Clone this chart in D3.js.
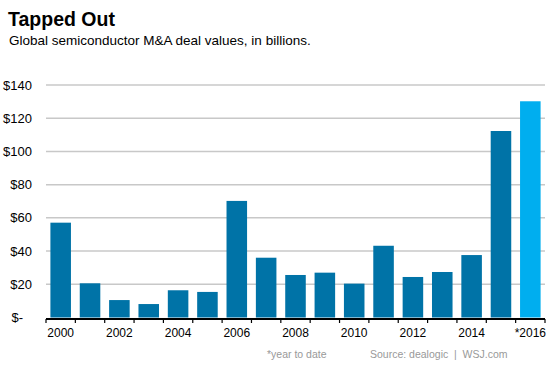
<!DOCTYPE html>
<html><head><meta charset="utf-8">
<script src="https://cdn.jsdelivr.net/npm/d3@7"></script>
<style>body{margin:0;background:#fff;font-family:"Liberation Sans",Arial,sans-serif;}</style>
</head><body><svg id="c" width="553" height="369"></svg>
<script>
const years = ["2000","2001","2002","2003","2004","2005","2006","2007","2008","2009","2010","2011","2012","2013","2014","2015","*2016"];
const values = [57.1,20.6,10.5,8.1,16.4,15.4,70.2,36,25.6,27,20.4,43.2,24.4,27.4,37.6,112.3,130.2];
const yTicks = [0,20,40,60,80,100,120,140];
const tickLabelYears = ["2000","2002","2004","2006","2008","2010","2012","2014","*2016"];

const svg = d3.select("#c");
const x = d3.scaleBand().domain(years).range([46,545]).paddingInner(0.3).paddingOuter(0.15);
const y = d3.scaleLinear().domain([0,140]).range([317.5,85]);

svg.append("text").attr("x",8).attr("y",26).attr("font-size",19.5).attr("font-weight","bold").attr("fill","#000").text("Tapped Out");
svg.append("text").attr("x",9).attr("y",45).attr("font-size",13.5).attr("fill","#000").text("Global semiconductor M&A deal values, in billions.");

// gridlines
svg.append("g").selectAll("line").data(yTicks.filter(d=>d>0)).join("line")
  .attr("x1",46).attr("x2",545).attr("y1",d=>y(d)).attr("y2",d=>y(d))
  .attr("stroke","#c8c8c8").attr("stroke-width",1.5);

// y labels
svg.append("g").selectAll("text").data(yTicks).join("text")
  .attr("x",d=>d===0?23:32).attr("y",d=>y(d)).attr("dy","0.35em")
  .attr("text-anchor","end").attr("font-size",13).attr("fill","#000")
  .text(d=>d===0?"$-":"$"+d);

// bars
svg.append("g").selectAll("rect").data(years).join("rect")
  .attr("x",d=>x(d)).attr("width",x.bandwidth())
  .attr("y",(d,i)=>y(values[i])).attr("height",(d,i)=>y(0)-y(values[i]))
  .attr("fill",(d,i)=>i===years.length-1?"#00aeef":"#0073a7");

// x axis
const step = x.step();
const ax = svg.append("g");
ax.append("line").attr("x1",46).attr("x2",545).attr("y1",319).attr("y2",319).attr("stroke","#000").attr("stroke-width",2);
const bounds = d3.range(years.length+1).map(i=>46+i*step);
ax.selectAll("line.t").data(bounds).join("line").attr("class","t")
  .attr("x1",d=>d).attr("x2",d=>d).attr("y1",319).attr("y2",323).attr("stroke","#000").attr("stroke-width",1.2);
ax.selectAll("text").data(tickLabelYears).join("text")
  .attr("x",d=>x(d)+x.bandwidth()/2).attr("y",337).attr("text-anchor","middle")
  .attr("font-size",12).attr("fill","#000").text(d=>d);

svg.append("text").attr("x",267).attr("y",358).attr("font-size",10.5).attr("fill","#999").text("*year to date");
svg.append("text").attr("x",370).attr("y",358).attr("font-size",10.5).attr("fill","#999").attr("xml:space","preserve").text("Source: dealogic  |  WSJ.com");
</script></body></html>
